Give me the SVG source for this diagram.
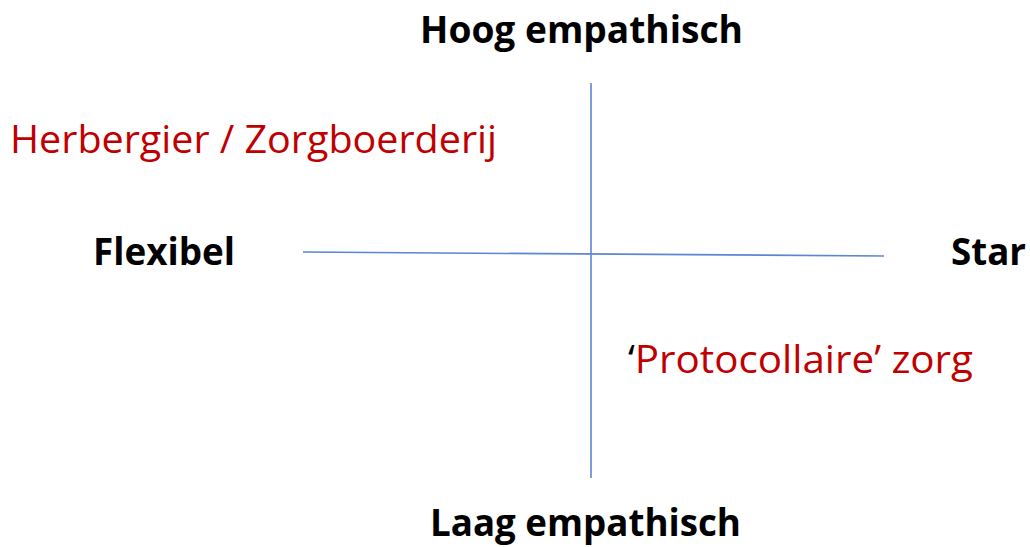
<svg xmlns="http://www.w3.org/2000/svg" width="1030" height="547" viewBox="0 0 1030 547">
<style>
.lbl{font-family:"Open Sans","Noto Sans","Liberation Sans",sans-serif;font-size:38px}
.b{font-weight:bold;fill:#000}
.r{fill:#c00000}
.axis{stroke:#5b86d0;stroke-width:1.6;fill:none}
</style>
<rect width="1030" height="547" fill="#fff"/>
<g id="connectors">
<line class="axis" x1="591" y1="83" x2="591" y2="478"/>
<line class="axis" x1="303" y1="252" x2="884" y2="256"/>
</g>
<g id="hoog"><text class="lbl b" x="420" y="43" textLength="323" lengthAdjust="spacingAndGlyphs">Hoog empathisch</text></g>
<g id="laag"><text class="lbl b" x="430" y="536" textLength="311" lengthAdjust="spacingAndGlyphs">Laag empathisch</text></g>
<g id="flexibel"><text class="lbl b" x="93" y="265" textLength="142" lengthAdjust="spacingAndGlyphs">Flexibel</text></g>
<g id="star"><text class="lbl b" x="951" y="265" textLength="75" lengthAdjust="spacingAndGlyphs">Star</text></g>
<g id="herbergier"><text class="lbl r" x="10" y="153" textLength="487" lengthAdjust="spacingAndGlyphs">Herbergier / Zorgboerderij</text></g>
<g id="protocollaire"><text class="lbl r" x="628" y="373" textLength="345" lengthAdjust="spacingAndGlyphs"><tspan fill="#000">‘</tspan>Protocollaire’ zorg</text></g>
</svg>
